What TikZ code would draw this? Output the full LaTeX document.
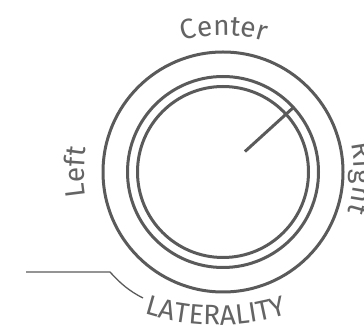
\documentclass[tikz,border=0pt]{standalone}
\usepackage{fontspec}
\setmainfont{Fira Sans}
\usetikzlibrary{decorations.text}
\definecolor{ringc}{HTML}{5A5A5A}
\definecolor{txtc}{HTML}{646464}
\newcommand\lblfont{\fontsize{28}{28}\selectfont\color{txtc}}
\tikzset{
  ring/.style={draw=ringc, line width=3pt},
  needle/.style={draw=ringc, line width=3pt},
  leader/.style={draw=ringc, line width=1.3pt},
  arclabel/.style={decorate, decoration={text along path, text align={fit to path}, text={|\lblfont|#1}}}
}
\begin{document}
\begin{tikzpicture}[x=1pt,y=1pt]
\useasboundingbox (0pt,0pt) rectangle (364pt,326pt);
\coordinate (O) at (223pt,154pt);
% rings
\draw[ring] (O) circle[radius=120pt];
\draw[ring] (O) circle[radius=95.5pt];
\draw[ring] (O) circle[radius=85.5pt];
% needle
\path (O) ++(43:30pt) coordinate (nA) (O) ++(42.5:95pt) coordinate (nB);
\draw[needle] (nA) -- (nB);
% labels
\path[arclabel=Center] (O) ++(107:137pt) arc[start angle=107, end angle=73, radius=137pt];
\path[arclabel=Left] (O) ++(190:139pt) arc[start angle=190, end angle=170, radius=139pt];
\path[arclabel=Right] (O) ++(12.7:131pt) arc[start angle=12.7, end angle=-17.9, radius=131pt];
\coordinate (L) at (216pt,238pt);
\path[arclabel=LATERALITY] (L) ++(252.4:237pt) arc[start angle=252.4, end angle=287.6, radius=237pt];
% leader
\coordinate (la) at (26pt,54pt);
\coordinate (lb) at (110pt,54pt);
\coordinate (lc) at (143pt,28pt);
\draw[leader] (la) -- (lb) .. controls (120pt,43pt) and (129pt,35pt) .. (lc);
\end{tikzpicture}
\end{document}
